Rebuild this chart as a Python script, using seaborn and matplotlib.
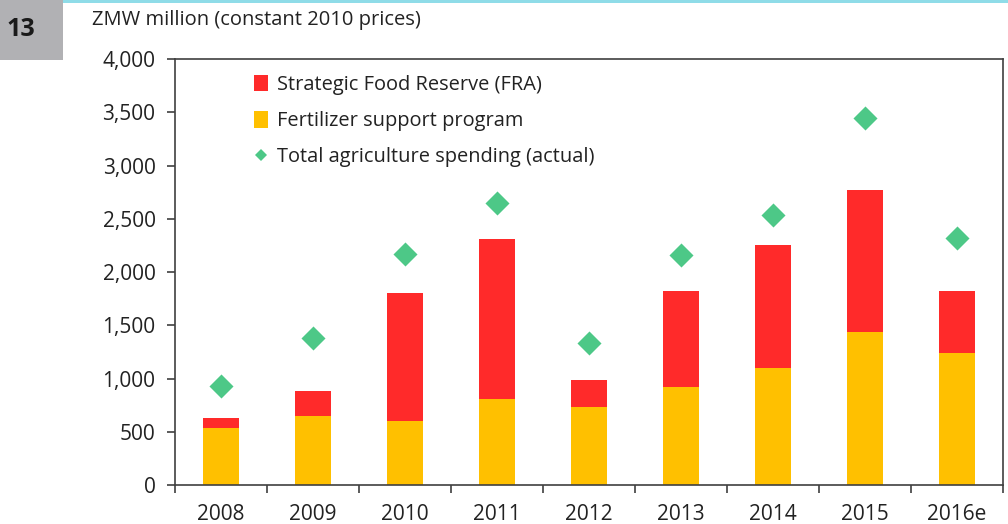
import numpy as np
import pandas as pd
import matplotlib
matplotlib.use("Agg")
import matplotlib.pyplot as plt
import seaborn as sns
from matplotlib.patches import Patch, Rectangle
from matplotlib.lines import Line2D
from matplotlib.ticker import FuncFormatter

years = ["2008", "2009", "2010", "2011", "2012", "2013", "2014", "2015", "2016e"]
fertilizer = [532, 648, 601, 807, 729, 920, 1102, 1437, 1239]
fra = [94, 237, 1202, 1500, 257, 902, 1148, 1336, 583]
total_actual = [930, 1380, 2169, 2645, 1330, 2157, 2535, 3449, 2322]

red = "#FF2A2A"
yellow = "#FFC000"
green = "#4DC887"

df = pd.DataFrame({
    "year": years,
    "fert": fertilizer,
    "stack": np.array(fertilizer) + np.array(fra),
    "total": total_actual,
})

sns.set_style("white")
plt.rcParams["font.family"] = ["Open Sans", "DejaVu Sans"]

fig = plt.figure(figsize=(10.08, 5.24), dpi=100)
ax = fig.add_axes([0.1736, 0.0744, 0.8214, 0.813])

# stacked bars: full height in red, fertilizer drawn over it in yellow
sns.barplot(data=df, x="year", y="stack", color=red, width=0.4,
            saturation=1, ax=ax, order=years, linewidth=0)
sns.barplot(data=df, x="year", y="fert", color=yellow, width=0.4,
            saturation=1, ax=ax, order=years, linewidth=0)
ax.scatter(np.arange(len(years)), df["total"], marker="D", s=150,
           color=green, zorder=5, linewidths=0)

ax.set_xlim(-0.5, len(years) - 0.5)
ax.set_ylim(0, 4000)
ax.set_yticks(np.arange(0, 4001, 500))
ax.yaxis.set_major_formatter(FuncFormatter(lambda v, p: f"{int(v):,}"))
ax.set_xlabel("")
ax.set_ylabel("")

ax.set_xticks(np.arange(-0.5, len(years)), minor=True)
ax.tick_params(axis="x", which="major", length=0, pad=14, labelsize=15, labelcolor="#222222")
ax.tick_params(axis="x", which="minor", length=6, width=1.2, color="#404040", direction="out", bottom=True)
ax.tick_params(axis="y", length=6, width=1.2, color="#404040", direction="out", left=True,
               pad=8, labelsize=15, labelcolor="#222222")

for s in ax.spines.values():
    s.set_color("#404040")
    s.set_linewidth(1.2)
    s.set_visible(True)

handles = [
    Patch(facecolor=red, edgecolor="none"),
    Patch(facecolor=yellow, edgecolor="none"),
    Line2D([], [], marker="D", color=green, linestyle="none", markersize=6, markeredgewidth=0),
]
labels = ["Strategic Food Reserve (FRA)", "Fertilizer support program",
          "Total agriculture spending (actual)"]
ax.legend(handles, labels, loc="upper left", bbox_to_anchor=(0.074, 1.005), frameon=False,
          fontsize=14.4, labelspacing=0.8, handlelength=0.7, handleheight=0.9,
          handletextpad=0.45, labelcolor="#222222")

# header: number badge, cyan rule and unit label
fig.patches.append(Rectangle((0, 1 - 60 / 524), 63 / 1008, 60 / 524, transform=fig.transFigure,
                             facecolor="#B1B1B4", edgecolor="none"))
fig.patches.append(Rectangle((63 / 1008, 1 - 3 / 524), 1, 3 / 524, transform=fig.transFigure,
                             facecolor="#8FDCE8", edgecolor="none"))
fig.text(21 / 1008, 1 - 29 / 524, "13", fontsize=18, fontweight="bold", color="#1a1a1a",
         ha="center", va="center")
fig.text(92 / 1008, 1 - 20 / 524, "ZMW million (constant 2010 prices)", fontsize=14.5,
         color="#222222", ha="left", va="center")

fig.savefig("out.png", dpi=100)
